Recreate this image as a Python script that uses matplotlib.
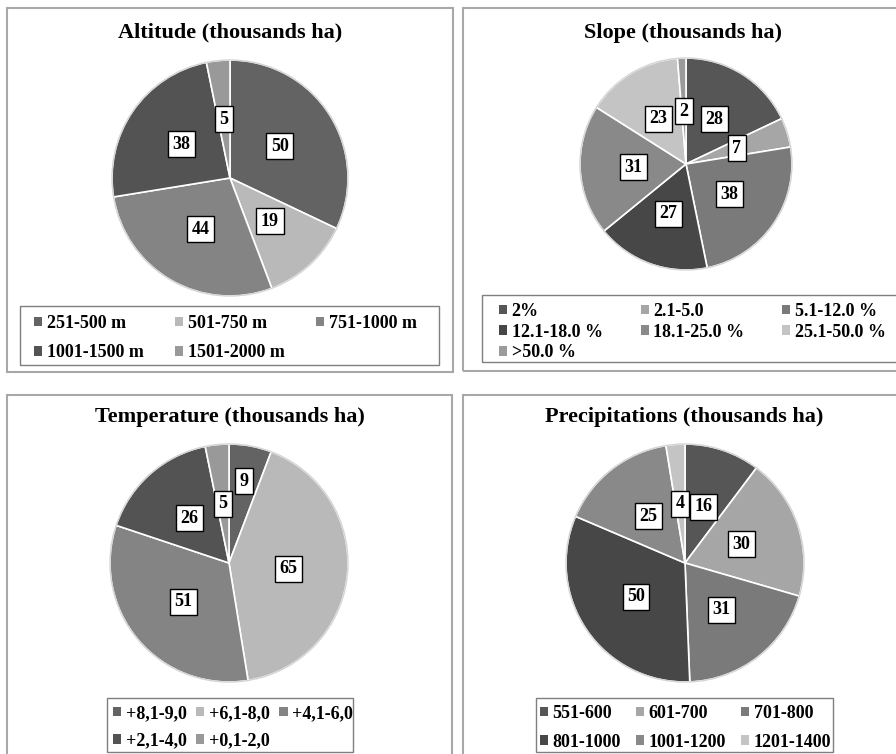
import matplotlib
matplotlib.use("Agg")
import matplotlib.pyplot as plt
import numpy as np
from matplotlib.patches import Rectangle, Patch, Circle

plt.rcParams['font.family'] = ['Liberation Serif', 'DejaVu Serif']
plt.rcParams['font.weight'] = 'bold'

W, H = 896, 754

# data
alt_labels = ['251-500 m', '501-750 m', '751-1000 m', '1001-1500 m', '1501-2000 m']
alt_values = [50, 19, 44, 38, 5]
alt_colors = ['#636363', '#b9b9b9', '#848484', '#535353', '#999999']

slope_labels = ['2%', '2.1-5.0', '5.1-12.0 %', '12.1-18.0 %', '18.1-25.0 %', '25.1-50.0 %', '>50.0 %']
slope_values = [28, 7, 38, 27, 31, 23, 2]
slope_colors = ['#565656', '#a6a6a6', '#7a7a7a', '#474747', '#898989', '#c4c4c4', '#9b9b9b']

temp_labels = ['+8,1-9,0', '+6,1-8,0', '+4,1-6,0', '+2,1-4,0', '+0,1-2,0']
temp_values = [9, 65, 51, 26, 5]
temp_colors = ['#636363', '#b9b9b9', '#848484', '#535353', '#999999']

prec_labels = ['551-600', '601-700', '701-800', '801-1000', '1001-1200', '1201-1400']
prec_values = [16, 30, 31, 50, 25, 4]
prec_colors = ['#565656', '#a6a6a6', '#7a7a7a', '#474747', '#898989', '#c4c4c4']

fig = plt.figure(figsize=(W / 100, H / 100), dpi=100)
fig.patch.set_facecolor('white')


def fx(x):
    return x / W


def fy(y):
    return 1 - y / H


def rect(x0, y0, x1, y1, color, lw):
    fig.add_artist(Rectangle((fx(x0), fy(y1)), (x1 - x0) / W, (y1 - y0) / H,
                             transform=fig.transFigure, fill=False,
                             edgecolor=color, linewidth=lw))


def pie_panel(title, tx, ty, cx, cy, r, values, colors, label_r=None):
    fig.text(fx(tx), fy(ty), title, ha='center', va='center', fontsize=16, fontweight='bold')
    s = 1.06
    ax = fig.add_axes([fx(cx - r * s), fy(cy + r * s), 2 * r * s / W, 2 * r * s / H])
    wedges, _ = ax.pie(values, colors=colors, startangle=90, counterclock=False,
                       wedgeprops=dict(edgecolor='white', linewidth=1.2))
    ax.add_patch(Circle((0, 0), 1.0, fill=False, edgecolor='#d4d4d4', linewidth=1))
    if label_r is None:
        label_r = [0.5] * len(values)
    for w, v, d in zip(wedges, values, label_r):
        th = np.deg2rad((w.theta1 + w.theta2) / 2)
        ax.text(d * np.cos(th), d * np.sin(th), str(v), ha='center', va='center',
                fontsize=13, fontweight='bold',
                bbox=dict(boxstyle='square,pad=0.25', fc='white', ec='black', lw=1))
    ax.set_xlim(-s, s)
    ax.set_ylim(-s, s)
    ax.set_aspect('equal')
    ax.axis('off')


def legend_box(labels, colors, box, x0, x1, ytop, spacing, ncol=3):
    rect(*box, '#7f7f7f', 1)
    # legend fills columns first, so reorder to read across rows
    order = [i for c in range(ncol) for i in range(c, len(labels), ncol)]
    handles = [Patch(facecolor=colors[i], edgecolor='none') for i in order]
    leg = fig.legend(handles, [labels[i] for i in order], loc='upper left', ncol=ncol,
                     mode='expand',
                     bbox_to_anchor=(fx(x0), fy(ytop) - 0.1, (x1 - x0) / W, 0.1),
                     bbox_transform=fig.transFigure, borderaxespad=0, borderpad=0,
                     fontsize=13, handlelength=0.45, handleheight=0.45,
                     handletextpad=0.25, labelspacing=spacing,
                     columnspacing=0.3, frameon=False)
    for t in leg.get_texts():
        t.set_fontweight('bold')


rect(7, 8, 453, 372, '#a8a8a8', 1.5)
rect(463, 8, 905, 371, '#a8a8a8', 1.5)
rect(7, 395, 452, 765, '#a8a8a8', 1.5)
rect(463, 395, 905, 765, '#a8a8a8', 1.5)

pie_panel('Altitude (thousands ha)', 230, 32, 230, 178, 118, alt_values, alt_colors)
legend_box(alt_labels, alt_colors, (20, 306, 439, 365), 34, 417, 315, 0.69)

pie_panel('Slope (thousands ha)', 683, 33, 686, 164, 106, slope_values, slope_colors)
legend_box(slope_labels, slope_colors, (482, 295, 905, 362), 499, 886, 303, 0.2)

pie_panel('Temperature (thousands ha)', 230, 417, 229, 563, 119, temp_values, temp_colors,
          label_r=[0.7, 0.5, 0.5, 0.5, 0.5])
legend_box(temp_labels, temp_colors, (107, 698, 353, 752), 113, 353, 705, 0.58)

pie_panel('Precipitations (thousands ha)', 684, 417, 685, 563, 119, prec_values, prec_colors)
legend_box(prec_labels, prec_colors, (536, 698, 833, 752), 540, 831, 705, 0.64)

fig.savefig('out.png', dpi=100, facecolor='white')
